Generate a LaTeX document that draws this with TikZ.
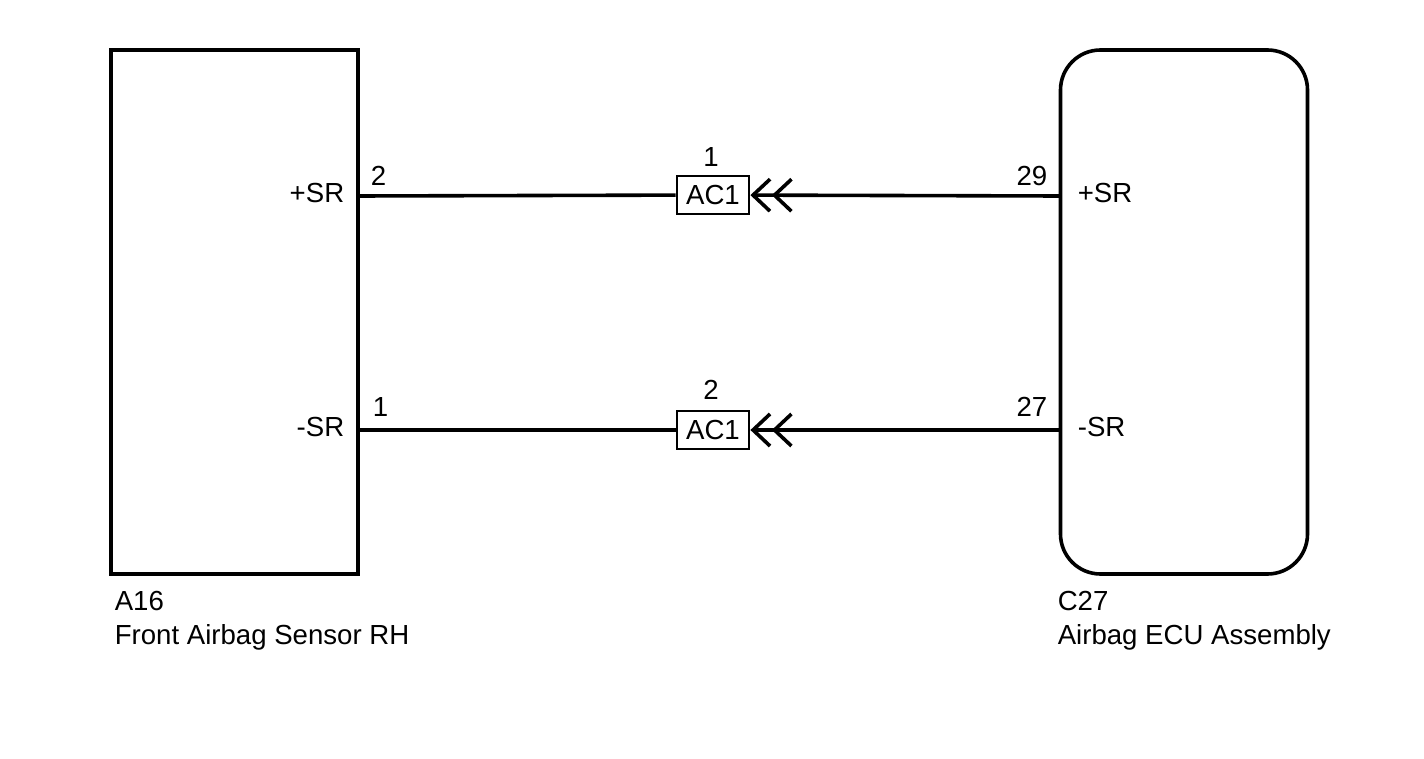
\documentclass[tikz,border=0pt]{standalone}
\usepackage{fontspec}
\setmainfont{Liberation Sans}
\usetikzlibrary{positioning,arrows.meta}

\begin{document}
\begin{tikzpicture}[x=0.5pt,y=-0.5pt,line width=1.8pt,
		font=\fontsize{13.8}{16}\selectfont,
		unit/.style={draw,line width=1.8pt,inner sep=0pt,minimum width=123.5pt,minimum height=262pt},
		conn/.style={draw,line width=1.4pt,inner sep=0pt,minimum width=36pt,minimum height=19pt},
		lbl/.style={inner sep=0pt},
		wire/.style={line width=1.8pt,-{Straight Barb[length=8.5pt,width=16pt,sep=0pt]Straight Barb[length=8.5pt,width=16pt]}}]
		\useasboundingbox (0,0) rectangle (1424,759);
		\node[unit] (a16) at (234.5,312) {};
		\node[unit,rounded corners=20pt] (c27) at (1184,312) {};
		\node[conn] (ac1p) at (713,195) {AC1};
		\node[conn] (ac1m) at (713,430) {AC1};
		\coordinate (a16p) at (358,196);
		\coordinate (a16m) at (358,430);
		\coordinate (c27p) at (1060,196);
		\coordinate (c27m) at (1060,430);
	
		\draw (a16p) -- (ac1p);
		\draw (a16m) -- (ac1m);
		\draw[wire] (c27p) -- (ac1p);
		\draw[wire] (c27m) -- (ac1m);
	
		\node[lbl,anchor=east] at (346,193) {+SR};
		\node[lbl,anchor=west] at (369,176) {2};
		\node[lbl,anchor=east] at (346,427) {-SR};
		\node[lbl,anchor=west] at (371,407) {1};
		\node[lbl] at (711,157) {1};
		\node[lbl] at (711,390) {2};
		\node[lbl,anchor=east] at (1049,176) {29};
		\node[lbl,anchor=west] at (1076,193) {+SR};
		\node[lbl,anchor=east] at (1049,407) {27};
		\node[lbl,anchor=west] at (1076,427) {-SR};
		\node[lbl,anchor=west] (a16n) at (113,601) {A16};
		\node[lbl,anchor=west] at (113,637) {Front Airbag Sensor RH};
		\node[lbl,anchor=west] (c27n) at (1056,601) {C27};
		\node[lbl,anchor=west] at (1056,637) {Airbag ECU Assembly};
\end{tikzpicture}
\end{document}
